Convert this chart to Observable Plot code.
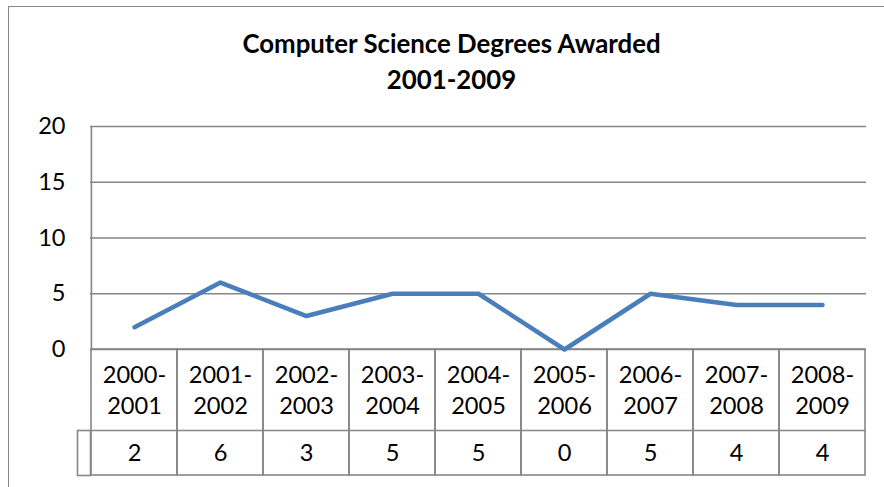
<!DOCTYPE html>
<html>
<head>
<meta charset="utf-8">
<script src="https://cdn.jsdelivr.net/npm/d3@7"></script>
<script src="https://cdn.jsdelivr.net/npm/@observablehq/plot@0.6"></script>
<style>
  html, body { margin: 0; padding: 0; background: #fff; overflow: hidden; }
  #wrap { position: relative; width: 884px; height: 487px; overflow: hidden; }
  #border { position: absolute; left: 8px; top: 6px; width: 1000px; height: 1000px;
            border: 1.5px solid #868686; pointer-events: none; }
</style>
</head>
<body>
<div id="wrap"><div id="chart"></div><div id="border"></div></div>
<script>
// ---- data ----
const titleLines = ["Computer Science Degrees Awarded", "2001-2009"];
const categories = ["2000-\n2001", "2001-\n2002", "2002-\n2003", "2003-\n2004", "2004-\n2005",
                    "2005-\n2006", "2006-\n2007", "2007-\n2008", "2008-\n2009"];
const values = [2, 6, 3, 5, 5, 0, 5, 4, 4];
const yTicks = [0, 5, 10, 15, 20];

// ---- layout ----
const W = 884, H = 487;
const mL = 90, mR = 18, mT = 126, mB = 138;
const plotW = W - mL - mR, plotH = H - mT - mB;
const yMax = 20;
const pxPerUnit = plotH / yMax;
const row1Px = 81, row2Px = 45;             // table row heights
const row1Bottom = -row1Px / pxPerUnit;      // in y units
const row2Bottom = -(row1Px + row2Px) / pxPerUnit;
const step = plotW / categories.length;
const grid = "#868686";
const font = "Lato, 'Open Sans', sans-serif";
const fs = 23.6;
const titleFs = 25.8;

const data = categories.map((c, i) => ({cat: c, value: values[i]}));

const chart = Plot.plot({
  width: W, height: H,
  marginLeft: mL, marginRight: mR, marginTop: mT, marginBottom: mB,
  style: {fontFamily: font, fontSize: fs + "px", color: "#000", background: "#fff"},
  x: {type: "band", domain: categories, padding: 0, axis: null},
  y: {domain: [0, yMax], ticks: yTicks, tickSize: 0, tickPadding: 25, label: null},
  marks: [
    // horizontal gridlines
    Plot.ruleY(yTicks, {stroke: grid, strokeWidth: 1.6}),
    // left axis line
    Plot.ruleX(categories.slice(0, 1), {y1: 0, y2: yMax, dx: -step / 2, stroke: grid, strokeWidth: 1.6}),
    // data table columns
    Plot.barY(categories, {x: d => d, y1: 0, y2: row2Bottom, fill: "none", stroke: grid, strokeWidth: 1.6}),
    Plot.ruleY([row1Bottom], {stroke: grid, strokeWidth: 1.6}),
    // legend-key cell left of the values row
    Plot.frame({stroke: grid, strokeWidth: 1.6, insetLeft: -13, insetRight: plotW,
                insetTop: plotH + row1Px, insetBottom: -(row1Px + row2Px)}),
    // category labels
    Plot.text(categories, {x: d => d, frameAnchor: "bottom", lineAnchor: "bottom",
                           dy: 64.5, lineHeight: 1.3, fill: "#000"}),
    // value labels
    Plot.text(data, {x: "cat", text: d => String(d.value), frameAnchor: "bottom",
                     lineAnchor: "bottom", dy: 111, fill: "#000"}),
    // the line
    Plot.line(data, {x: "cat", y: "value", stroke: "#4a7ebb", strokeWidth: 4.5,
                     strokeLinecap: "round", strokeLinejoin: "round"}),
    // title
    Plot.text([titleLines.join("\n")], {frameAnchor: "top", lineAnchor: "bottom", dx: -27,
                     dy: 88 - mT, lineHeight: 1.36, fontWeight: "bold", fontSize: titleFs, fill: "#000"})
  ]
});
document.getElementById("chart").appendChild(chart);
</script>
</body>
</html>
